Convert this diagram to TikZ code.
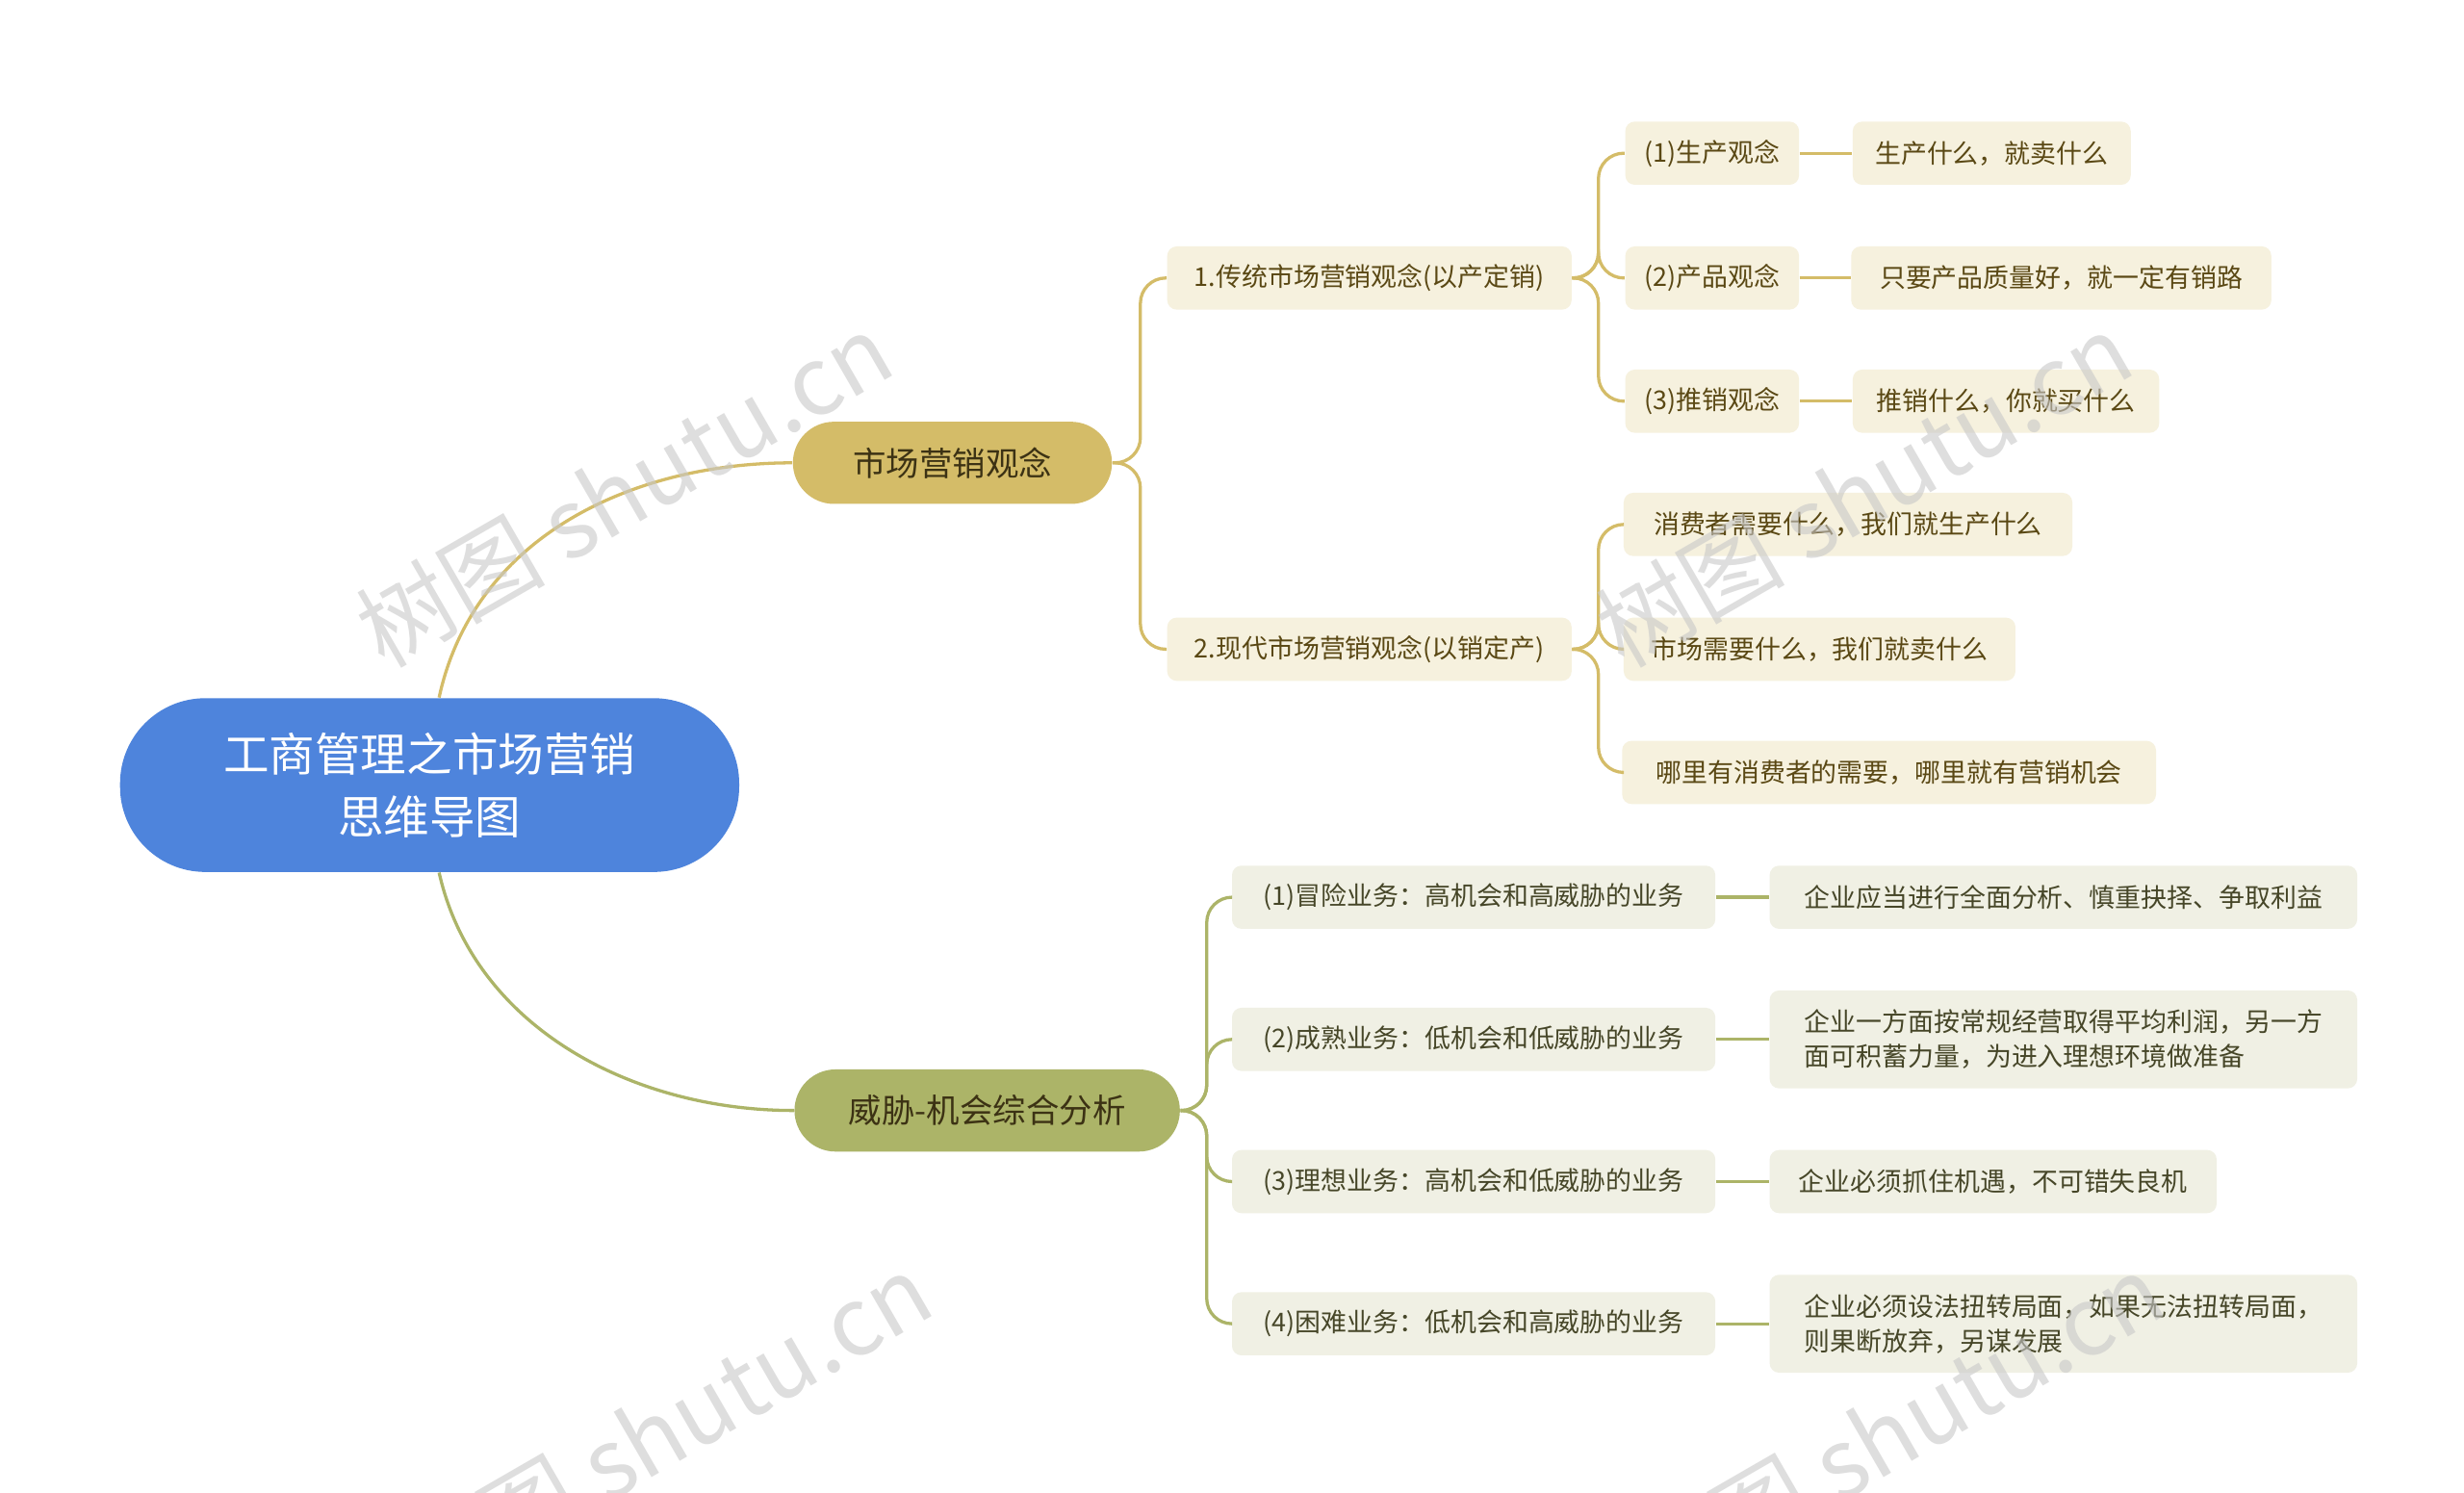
\documentclass[tikz,border=0pt]{standalone}
\usepackage{fontspec}
\setmainfont{Noto Sans CJK SC}
\begin{document}
\begin{tikzpicture}[x=0.5pt,y=-0.5pt,
  gold/.style={draw=none,fill={rgb,255:red,212;green,188;blue,104}},
  olive/.style={draw=none,fill={rgb,255:red,172;green,180;blue,104}},
  l1/.style={rounded corners=13pt,minimum height=26pt,font=\fontsize{10.5}{12}\selectfont,text={rgb,255:red,60;green,50;blue,20},inner xsep=0pt},
  sa/.style={fill={rgb,255:red,246;green,241;blue,222},rounded corners=3pt,minimum height=20pt,font=\fontsize{8.2}{11}\selectfont,text={rgb,255:red,90;green,72;blue,20},inner xsep=0pt},
  sb/.style={fill={rgb,255:red,240;green,240;blue,228},rounded corners=3pt,minimum height=20pt,font=\fontsize{8.2}{11}\selectfont,text={rgb,255:red,70;green,70;blue,40},inner xsep=0pt},
  la/.style={draw={rgb,255:red,212;green,188;blue,104},line width=1pt},
  lb/.style={draw={rgb,255:red,172;green,180;blue,104},line width=1pt},
  wm/.style={text={rgb,255:red,200;green,200;blue,200},font=\fontsize{30}{30}\selectfont\rmfamily,rotate=30,opacity=0.6}
]
\useasboundingbox (0,0) rectangle (1560,945);
\fill[white] (0,0) rectangle (1560,945);
% root
\node[fill={rgb,255:red,78;green,132;blue,220},rounded corners=27pt,minimum width=196pt,minimum height=55pt,text=white,font=\fontsize{14.5}{20}\selectfont,align=center] (root) at (272,497) {工商管理之市场营销\\思维导图};
\node[l1,gold,minimum width=101pt] (A) at (603,293) {市场营销观念};
\node[l1,olive,minimum width=122pt] (B) at (625,703) {威胁-机会综合分析};
\draw[la] (root.north) ++(6,0) coordinate (rt) .. controls (300,340) and (400,293) .. (A.west);
\draw[lb] (root.south) ++(6,0) coordinate (rb) .. controls (300,650) and (400,703) .. (B.west);
% A children
\node[sa,minimum width=128pt] (A1) at (867,176) {1.传统市场营销观念(以产定销)};
\node[sa,minimum width=128pt] (A2) at (867,411) {2.现代市场营销观念(以销定产)};
\foreach \c in {A1,A2} \draw[la,rounded corners=8pt] (A.east) -- (722,293) |- (\c.west);
\node[sa,minimum width=55pt] (a1) at (1084,97) {(1)生产观念};
\node[sa,minimum width=55pt] (a2) at (1084,176) {(2)产品观念};
\node[sa,minimum width=55pt] (a3) at (1084,254) {(3)推销观念};
\foreach \c in {a1,a2,a3} \draw[la,rounded corners=8pt] (A1.east) -- (1012,176) |- (\c.west);
\node[sa,minimum width=88pt] (b1) at (1261,97) {生产什么，就卖什么};
\node[sa,minimum width=133pt] (b2) at (1305,176) {只要产品质量好，就一定有销路};
\node[sa,minimum width=97pt] (b3) at (1270,254) {推销什么，你就买什么};
\draw[la] (a1.east) -- (b1.west); \draw[la] (a2.east) -- (b2.west); \draw[la] (a3.east) -- (b3.west);
\node[sa,minimum width=142pt] (c1) at (1170,332) {消费者需要什么，我们就生产什么};
\node[sa,minimum width=124pt] (c2) at (1152,411) {市场需要什么，我们就卖什么};
\node[sa,minimum width=169pt] (c3) at (1196,489) {哪里有消费者的需要，哪里就有营销机会};
\foreach \c in {c1,c2,c3} \draw[la,rounded corners=8pt] (A2.east) -- (1012,411) |- (\c.west);
% B children
\node[sb,minimum width=153pt] (B1) at (933,568) {(1)冒险业务：高机会和高威胁的业务};
\node[sb,minimum width=153pt] (B2) at (933,658) {(2)成熟业务：低机会和低威胁的业务};
\node[sb,minimum width=153pt] (B3) at (933,748) {(3)理想业务：高机会和低威胁的业务};
\node[sb,minimum width=153pt] (B4) at (933,838) {(4)困难业务：低机会和高威胁的业务};
\foreach \c in {B1,B2,B3,B4} \draw[lb,rounded corners=8pt] (B.east) -- (764,703) |- (\c.west);
\node[sb,minimum width=186pt,anchor=west] (d1) at (1120,568) {企业应当进行全面分析、慎重抉择、争取利益};
\node[sb,minimum width=186pt,minimum height=31pt,anchor=west,align=left] (d2) at (1120,658) {企业一方面按常规经营取得平均利润，另一方\\面可积蓄力量，为进入理想环境做准备};
\node[sb,minimum width=141.5pt,anchor=west] (d3) at (1120,748) {企业必须抓住机遇，不可错失良机};
\node[sb,minimum width=186pt,minimum height=31pt,anchor=west,align=left] (d4) at (1120,838) {企业必须设法扭转局面，如果无法扭转局面，\\则果断放弃，另谋发展};
\draw[lb] (B1.east) -- (d1.west); \draw[lb] (B2.east) -- (d2.west); \draw[lb] (B3.east) -- (d3.west); \draw[lb] (B4.east) -- (d4.west);
% watermarks
\node[wm] (w1) at (395,310) {树图 shutu.cn};
\node[wm] (w2) at (1180,310) {树图 shutu.cn};
\node[wm] (w3) at (420,905) {树图 shutu.cn};
\node[wm] (w4) at (1200,905) {树图 shutu.cn};
\end{tikzpicture}
\end{document}
